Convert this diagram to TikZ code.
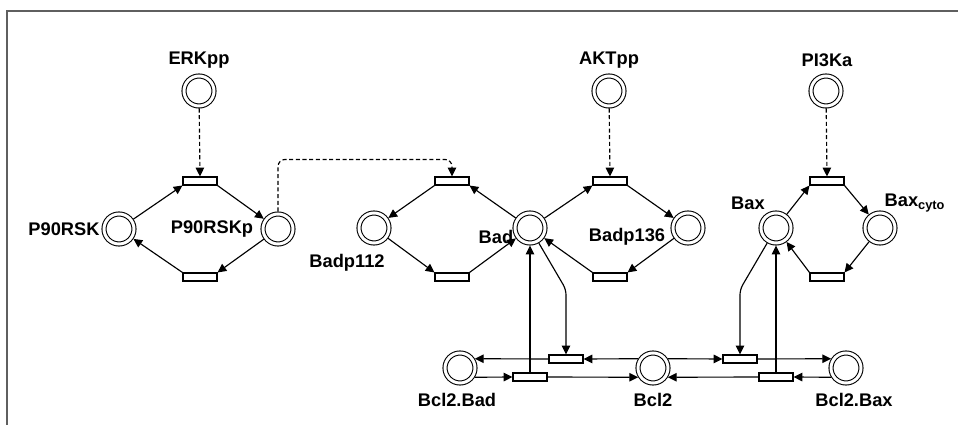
\documentclass[tikz,border=0pt]{standalone}
\usepackage{fontspec}
\setmainfont{Liberation Sans}
\usepackage{xcolor}
\usepackage{tikz}
\usetikzlibrary{arrows.meta,calc}
\definecolor{framegray}{RGB}{95,95,95}

\tikzset{
  place/.style={circle, draw, double, double distance=0.06cm, line width=0.6pt, minimum size=0.6cm, inner sep=0pt, outer sep=0.05cm},
  trans/.style={rectangle, draw, fill=white, line width=0.6pt, minimum width=0.68cm, minimum height=0.16cm, inner sep=0pt},
  lbl/.style={font=\bfseries\fontsize{10.4}{12}\selectfont, inner sep=1pt},
  flow/.style={-{Triangle[length=5pt,width=4.8pt]}, line width=0.65pt},
  readflow/.style={flow, dash pattern=on 2.3pt off 1.5pt}
}

\begin{document}
\begin{tikzpicture}[x=0.02cm,y=-0.02cm]
        \useasboundingbox (0,0) rectangle (958,425);
        \draw[framegray, line width=1.1pt] (958,11) -- (7,11) -- (7,425);

        \node[place] (erkpp) at (199,91) {};
        \node[place] (p90rsk) at (119,229) {};
        \node[place] (p90rskp) at (278,229) {};
        \node[place] (badp112) at (374,228) {};
        \node[place] (bad) at (530,228) {};
        \node[place] (badp136) at (688,228) {};
        \node[place] (aktpp) at (609,91) {};
        \node[place] (bax) at (776,228) {};
        \node[place] (baxcyto) at (880,228) {};
        \node[place] (pi3ka) at (826,91) {};
        \node[place] (bcl2bad) at (460,368) {};
        \node[place] (bcl2) at (653,368) {};
        \node[place] (bcl2bax) at (846,368) {};

        \node[trans] (t1) at (200,181) {};
        \node[trans] (t2) at (200,277) {};
        \node[trans] (t3) at (452,181) {};
        \node[trans] (t4) at (452,277) {};
        \node[trans] (t5) at (610,181) {};
        \node[trans] (t6) at (610,277) {};
        \node[trans] (t7) at (827,181) {};
        \node[trans] (t8) at (827,277) {};
        \node[trans] (t9) at (566,359) {};
        \node[trans] (t10) at (530,377) {};
        \node[trans] (t11) at (740,359) {};
        \node[trans] (t12) at (776,377) {};

        \node[lbl] (erkpp-lbl) at (199,60) {ERKpp};
        \node[lbl] (p90rsk-lbl) at (64,229) {P90RSK};
        \node[lbl] (p90rskp-lbl) at (212,229) {P90RSKp};
        \node[lbl] (badp112-lbl) at (347,263) {Badp112};
        \node[lbl] (bad-lbl) at (496,237) {Bad};
        \node[lbl] (badp136-lbl) at (627,237) {Badp136};
        \node[lbl] (aktpp-lbl) at (609,60) {AKTpp};
        \node[lbl] (bax-lbl) at (748,203) {Bax};
        \node[lbl] (baxcyto-lbl) at (915,203) {Bax\textsubscript{cyto}};
        \node[lbl] (pi3ka-lbl) at (827,60) {PI3Ka};
        \node[lbl] (bcl2bad-lbl) at (457,400) {Bcl2.Bad};
        \node[lbl] (bcl2-lbl) at (653,400) {Bcl2};
        \node[lbl] (bcl2bax-lbl) at (854,400) {Bcl2.Bax};

        \draw[flow] (p90rsk) -- (t1.south west);
        \draw[flow] (t1.south east) -- (p90rskp);
        \draw[flow] (p90rskp) -- (t2.north east);
        \draw[flow] (t2.north west) -- (p90rsk);

        \draw[flow] (bad) -- (t3.south east);
        \draw[flow] (t3.south west) -- (badp112);
        \draw[flow] (badp112) -- (t4.north west);
        \draw[flow] (t4.north east) -- (bad);

        \draw[flow] (bad) -- (t5.south west);
        \draw[flow] (t5.south east) -- (badp136);
        \draw[flow] (badp136) -- (t6.north east);
        \draw[flow] (t6.north west) -- (bad);

        \draw[flow] (bax) -- (t7.south west);
        \draw[flow] (t7.south east) -- (baxcyto);
        \draw[flow] (baxcyto) -- (t8.north east);
        \draw[flow] (t8.north west) -- (bax);

        \draw[readflow] (erkpp) -- (t1.north);
        \draw[readflow] (aktpp) -- (t5.north);
        \draw[readflow] (pi3ka) -- (t7.north);
        \draw[readflow, rounded corners=4pt] (p90rskp.north) |- ($(t3.north)+(0,-17)$) -- (t3.north);

        \draw[flow] (bcl2.148) -- (t9.east);
        \draw[flow] (t9.west) -- (bcl2bad.32);
        \draw[flow] (bcl2bad.-32) -- (t10.west);
        \draw[flow] (t10.east) -- (bcl2.212);
        \draw[flow, rounded corners=3pt] (bad) -- ($(t9.north)+(0,-65)$) -- (t9.north);
        \draw[flow] (t10.north) -- (bad);

        \draw[flow] (bcl2.32) -- (t11.west);
        \draw[flow] (t11.east) -- (bcl2bax.148);
        \draw[flow] (bcl2bax.212) -- (t12.east);
        \draw[flow] (t12.west) -- (bcl2.-32);
        \draw[flow, rounded corners=3pt] (bax) -- ($(t11.north)+(0,-65)$) -- (t11.north);
        \draw[flow] (t12.north) -- (bax);
      \end{tikzpicture}
\end{document}
